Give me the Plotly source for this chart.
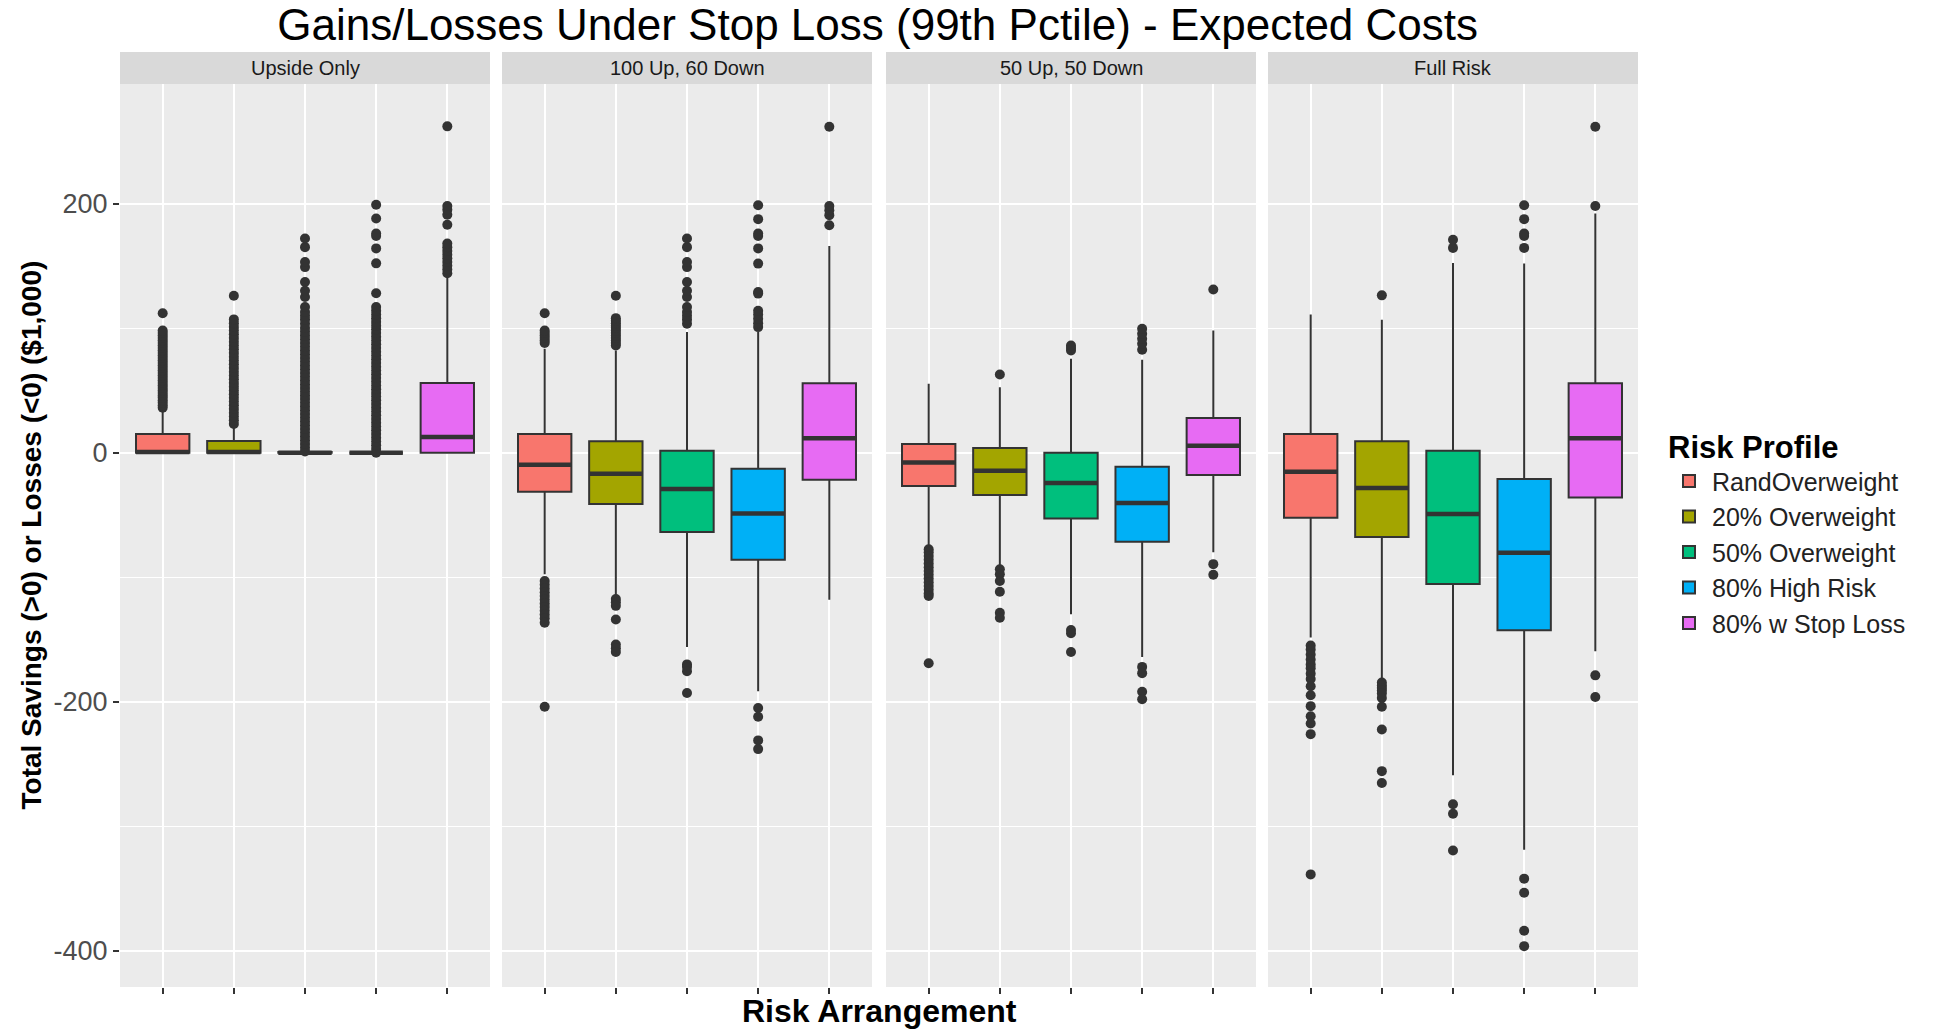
import plotly.graph_objects as go

# ---------------- data ----------------
FACETS = ["Upside Only", "100 Up, 60 Down", "50 Up, 50 Down", "Full Risk"]
PROFILES = ["RandOverweight", "20% Overweight", "50% Overweight", "80% High Risk", "80% w Stop Loss"]
COLORS = ["#F8766D", "#A3A500", "#00BF7D", "#00B0F6", "#E76BF3"]

# box statistics, one row per facet, one value per profile
Q1 = [
    [0, 0, 0, 0, 0],
    [-31.4, -41.3, -63.6, -86, -21.7],
    [-26.8, -34, -52.8, -71.6, -18],
    [-52.2, -67.8, -105.5, -142.6, -36],
]
MEDIAN = [
    [0.5, 0.5, 0, 0, 12.5],
    [-9.7, -17, -29.2, -48.8, 11.5],
    [-7.8, -14.5, -24.4, -40.5, 5.6],
    [-15.3, -28.4, -49.3, -80.3, 11.5],
]
Q3 = [
    [15, 9.3, 0.5, 0, 56],
    [15, 9.1, 1.6, -13, 55.8],
    [7, 3.8, 0, -11.3, 27.9],
    [15, 9.1, 1.6, -21.2, 55.8],
]
WHISKER_LO = [
    [0, 0, 0, 0, 0],
    [-97.6, -115, -156, -191.5, -118],
    [-74.8, -91, -129.8, -164, -80],
    [-148.4, -181.7, -259, -318.8, -159.4],
]
WHISKER_HI = [
    [34, 21, 0.5, 0, 142],
    [83.4, 82, 96.8, 96.8, 166],
    [55.3, 52.5, 75.4, 74.6, 98],
    [111, 106.8, 152.3, 151.8, 192],
]

OUTLIERS_UPSIDE = [
    [36, 38, 40, 42, 44, 46, 48, 50, 52, 54, 56, 58, 60, 62, 64, 66, 68, 70, 72, 74, 76, 78,
     80, 82, 84, 86, 88, 90, 92, 94, 96, 98, 112],
    [23, 26, 29, 32, 35, 38, 41, 44, 47, 50, 53, 56, 59, 62, 65, 68, 71, 74, 77, 80, 83, 86,
     89, 92, 95, 98, 101, 104, 107, 126],
    [1, 4, 7, 10, 13, 16, 19, 22, 25, 28, 31, 34, 37, 40, 43, 46, 49, 52, 55, 58, 61, 64, 67,
     70, 73, 76, 79, 82, 85, 88, 91, 94, 97, 100, 103.5, 107, 110, 113, 117, 125, 130, 137,
     149, 153, 165, 172],
    [0, 3, 6, 9, 12, 15, 18, 21, 24, 27, 30, 33, 36, 39, 42, 45, 48, 51, 54, 57, 60, 63, 66,
     69, 72, 75, 78, 81, 84, 87, 90, 93, 96, 99, 102, 105, 108, 111, 114, 117, 128, 152, 164,
     174, 176, 188, 199],
    [144, 147, 150, 153, 156, 159, 162, 165, 168, 183, 191, 195, 198, 262],
]
OUTLIERS_100_60 = [
    [88, 90, 92, 94, 96, 98, 112, -103, -106, -109, -112, -115, -118, -121, -124, -127, -130,
     -133, -136.5, -204],
    [86, 88, 90, 92, 94, 96, 98, 100, 102, 104, 106, 108, 126, -117.5, -120, -123, -134, -154,
     -157, -160],
    [103.5, 107, 110, 113, 117, 125, 130, 137, 149, 153, 165, 172, -170, -172, -175.5, -193],
    [100.8, 104, 107.5, 111, 114, 127.7, 129, 151.8, 164, 174, 176, 187.5, 198.7, -205, -212,
     -231, -238],
    [182.6, 190.7, 194.7, 198, 261.7],
]
OUTLIERS_50_50 = [
    [-77.5, -80, -83, -86, -89, -92, -95, -98, -101, -104, -107, -110, -113, -115, -169],
    [62.8, -93.6, -97.6, -103, -111.6, -128.5, -132.5],
    [82, 84, 86, -142.4, -145, -160],
    [82.6, 87.5, 91.5, 95.5, 99.5, -172, -177, -192, -198],
    [131, -89.5, -98],
]
OUTLIERS_FULL = [
    [-154.8, -158, -162, -166, -170, -173, -177.4, -181.7, -187.5, -194.8, -203.5, -211.6,
     -217.4, -226, -338.6],
    [126.3, -184.6, -187, -189, -191, -193.3, -197, -204, -222.3, -255.7, -265.2],
    [164.4, 171, -282.3, -289.9, -319.4],
    [164.4, 174, 176, 187.5, 198.7, -342, -353.3, -383.8, -396.2],
    [198, 261.7, -178.8, -196.2],
]
OUTLIERS = [OUTLIERS_UPSIDE, OUTLIERS_100_60, OUTLIERS_50_50, OUTLIERS_FULL]

Y_TICKS = [-400, -200, 0, 200]
Y_TICK_TEXT = ["-400", "-200", "0", "200"]
Y_MINOR = [-300, -100, 100]

# ---------------- layout constants ----------------
W, H = 1934, 1029
ML, MR, MT, MB = 120, 296, 84, 42
PW = W - ML - MR
PH = H - MT - MB
panel_px = [(0, 370), (382, 752), (766, 1136), (1148, 1518)]
domains = [[a / PW, b / PW] for a, b in panel_px]
BOX_W = 0.75
FONT = "Liberation Sans, Arial, sans-serif"
DARK = "#333333"

fig = go.Figure()

for f in range(4):
    xa = "x" if f == 0 else f"x{f+1}"
    ya = "y" if f == 0 else f"y{f+1}"
    for p in range(5):
        pos = p + 1
        fig.add_trace(go.Box(
            x=[pos], q1=[Q1[f][p]], median=[MEDIAN[f][p]], q3=[Q3[f][p]],
            lowerfence=[WHISKER_LO[f][p]], upperfence=[WHISKER_HI[f][p]],
            width=BOX_W, whiskerwidth=0, boxpoints=False,
            fillcolor=COLORS[p], line=dict(color=DARK, width=2),
            name=PROFILES[p], legendgroup=PROFILES[p], showlegend=(f == 0),
            xaxis=xa, yaxis=ya, hoverinfo="skip",
        ))
        # thicker median line (ggplot style)
        fig.add_trace(go.Scatter(
            x=[pos - BOX_W / 2, pos + BOX_W / 2], y=[MEDIAN[f][p], MEDIAN[f][p]],
            mode="lines", line=dict(color=DARK, width=4.5),
            showlegend=False, xaxis=xa, yaxis=ya, hoverinfo="skip",
        ))
        pts = OUTLIERS[f][p]
        if pts:
            fig.add_trace(go.Scatter(
                x=[pos] * len(pts), y=pts, mode="markers",
                marker=dict(color=DARK, size=10, line=dict(width=0)),
                showlegend=False, xaxis=xa, yaxis=ya, hoverinfo="skip",
            ))

layout = dict(
    width=W, height=H,
    margin=dict(l=ML, r=MR, t=MT, b=MB),
    paper_bgcolor="white", plot_bgcolor="#EBEBEB",
    font=dict(family=FONT, color="#1A1A1A"),
    showlegend=True,
    title=dict(
        text="Gains/Losses Under Stop Loss (99th Pctile) - Expected Costs",
        x=0.4538, xref="container", xanchor="center",
        y=1 - 25 / H, yref="container", yanchor="middle",
        font=dict(family=FONT, size=44, color="black"),
    ),
    legend=dict(
        x=1 + (1666 - ML - PW) / PW, xanchor="left",
        y=(H - MB - 418) / PH, yanchor="top",
        title=dict(text="<b>Risk Profile</b>", font=dict(family=FONT, size=31, color="black")),
        font=dict(family=FONT, size=25, color="#222222"),
        bgcolor="rgba(0,0,0,0)", tracegroupgap=0, itemwidth=36,
    ),
)

shapes = []
annotations = []
for f in range(4):
    xkey = "xaxis" if f == 0 else f"xaxis{f+1}"
    ykey = "yaxis" if f == 0 else f"yaxis{f+1}"
    ya = "y" if f == 0 else f"y{f+1}"
    xa = "x" if f == 0 else f"x{f+1}"
    layout[xkey] = dict(
        domain=domains[f], anchor=ya, range=[0.4, 5.6],
        tickvals=[1, 2, 3, 4, 5], ticktext=["", "", "", "", ""],
        showgrid=True, gridcolor="white", gridwidth=2,
        ticks="outside", ticklen=6, tickwidth=2, tickcolor=DARK,
        zeroline=False, showline=False,
    )
    layout[ykey] = dict(
        anchor=xa, range=[-429, 296], domain=[0, 1],
        tickvals=Y_TICKS, ticktext=Y_TICK_TEXT,
        showticklabels=(f == 0),
        ticks="outside" if f == 0 else "", ticklen=6, tickwidth=2, tickcolor=DARK,
        tickfont=dict(family=FONT, size=27, color="#4D4D4D"),
        showgrid=True, gridcolor="white", gridwidth=2,
        minor=dict(tickvals=Y_MINOR, showgrid=True, gridcolor="white", gridwidth=1, ticks=""),
        zeroline=False, showline=False,
    )
    if f > 0:
        layout[ykey]["matches"] = "y"
    shapes.append(dict(
        type="rect", xref=f"{xa} domain", yref="paper",
        x0=0, x1=1, y0=1, y1=1 + 32 / PH,
        fillcolor="#D9D9D9", line=dict(width=0), layer="below",
    ))
    annotations.append(dict(
        text=FACETS[f], xref=f"{xa} domain", yref="paper",
        x=0.5, y=1 + 16 / PH, xanchor="center", yanchor="middle",
        showarrow=False, font=dict(family=FONT, size=20, color="#1A1A1A"),
    ))

annotations.append(dict(
    text="<b>Risk Arrangement</b>", xref="paper", yref="paper",
    x=0.5, y=-(1011 - (H - MB)) / PH, xanchor="center", yanchor="middle",
    showarrow=False, font=dict(family=FONT, size=32, color="black"),
))
annotations.append(dict(
    text="<b>Total Savings (>0) or Losses (<0) ($1,000)</b>", xref="paper", yref="paper",
    x=(31 - ML) / PW, y=0.5, xanchor="center", yanchor="middle", textangle=-90,
    showarrow=False, font=dict(family=FONT, size=28, color="black"),
))

layout["shapes"] = shapes
layout["annotations"] = annotations
fig.update_layout(**layout)

fig.write_html("out.html")
